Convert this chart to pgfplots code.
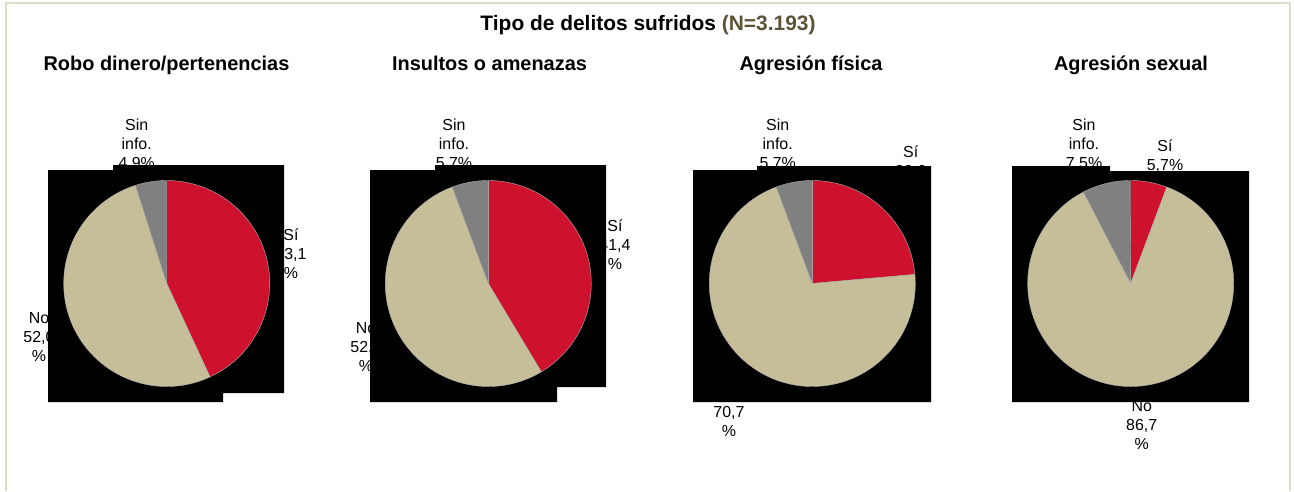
\documentclass[border=0pt]{standalone}
\usepackage{fontspec}
\setmainfont{Liberation Sans}
\usepackage{pgfplots}
\pgfplotsset{compat=1.18}

\definecolor{sired}{RGB}{206,18,45}
\definecolor{nobeige}{RGB}{197,190,152}
\definecolor{sngray}{RGB}{128,128,128}
\definecolor{framecol}{RGB}{224,220,202}
\definecolor{ncol}{RGB}{92,82,54}

% #1,#2 centre, #3 Si, #4 No, #5 Sin info (percent), from the top, clockwise
\newcommand{\pie}[5]{%
  \filldraw[sired, draw=gray!60, line width=.4bp] (axis cs:#1,#2) -- ++(90:103bp)
    arc[start angle=90, delta angle={-3.6*#3}, radius=103bp] -- cycle;
  \filldraw[nobeige, draw=gray!60, line width=.4bp] (axis cs:#1,#2) -- ++({90-3.6*#3}:103bp)
    arc[start angle={90-3.6*#3}, delta angle={-3.6*#4}, radius=103bp] -- cycle;
  \filldraw[sngray, draw=gray!60, line width=.4bp] (axis cs:#1,#2) -- ++({90-3.6*(#3+#4)}:103bp)
    arc[start angle={90-3.6*(#3+#4)}, delta angle={-3.6*#5}, radius=103bp] -- cycle;
}

\begin{document}
\begin{tikzpicture}[
    lbl/.style={align=center, inner sep=0pt, font=\fontsize{16}{19}\selectfont},
    ttl/.style={anchor=base, inner sep=0pt, font=\fontsize{20}{24}\selectfont\bfseries},
]
\begin{axis}[
    name=ax,
    width=1294bp, height=491bp, scale only axis,
    xmin=0, xmax=1294, ymin=0, ymax=491,
    y dir=reverse,
    hide axis, clip=false,
]
\path (axis cs:0,0) rectangle (axis cs:1294,491);
% frame
\draw[framecol, line width=1.5bp] (axis cs:6,491) -- (axis cs:6,3) -- (axis cs:1290,3) -- (axis cs:1290,491);

% titles
\node[ttl, font=\fontsize{21}{25}\selectfont\bfseries] at (axis cs:648,30.5)
  {Tipo de delitos sufridos \textcolor{ncol}{(N=3.193)}};
\node[ttl] at (axis cs:166.5,71) {Robo dinero/pertenencias};
\node[ttl] at (axis cs:489.5,71) {Insultos o amenazas};
\node[ttl] at (axis cs:811,71) {Agresión física};
\node[ttl] at (axis cs:1131,71) {Agresión sexual};

% data labels (partly covered by the black boxes)
\node[lbl] at (axis cs:136.7,145) {Sin\\info.\\4,9\%};
\node[lbl] at (axis cs:291,254) {Sí\\43,1\\\%};
\node[lbl] at (axis cs:39,337) {No\\52,0\\\%};

\node[lbl] at (axis cs:454,145) {Sin\\info.\\5,7\%};
\node[lbl] at (axis cs:615,245) {Sí\\41,4\\\%};
\node[lbl] at (axis cs:366,346.7) {No\\52,9\\\%};

\node[lbl] at (axis cs:777.7,145) {Sin\\info.\\5,7\%};
\node[lbl] at (axis cs:910.7,171) {Sí\\23,6\\\%};
\node[lbl] at (axis cs:729,412) {No\\70,7\\\%};

\node[lbl] at (axis cs:1084,145) {Sin\\info.\\7,5\%};
\node[lbl] at (axis cs:1165,156) {Sí\\5,7\%};
\node[lbl] at (axis cs:1141.7,425) {No\\86,7\\\%};

% black boxes behind the pies
\addplot[fill=black, draw=none] coordinates {(48,170) (113,170) (113,165) (284,165) (284,393) (223,393) (223,402) (48,402)} -- cycle;
\addplot[fill=black, draw=none] coordinates {(370,170) (435,170) (435,165) (606,165) (606,387) (557,387) (557,402) (370,402)} -- cycle;
\addplot[fill=black, draw=none] coordinates {(693,170) (757,170) (757,166) (931,166) (931,402) (693,402)} -- cycle;
\addplot[fill=black, draw=none] coordinates {(1012,171) (1012,166) (1110,166) (1110,171) (1249,171) (1249,402) (1012,402)} -- cycle;

% pies: Si, No, Sin info
\pie{166.7}{283.5}{43.1}{52.0}{4.9}
\pie{488.3}{283.5}{41.4}{52.9}{5.7}
\pie{812.3}{283.5}{23.6}{70.7}{5.7}
\pie{1130.7}{283.5}{5.7}{86.7}{7.5}
\end{axis}
\pgfresetboundingbox
\useasboundingbox (ax.south west) rectangle (ax.north east);
\end{tikzpicture}
\end{document}
